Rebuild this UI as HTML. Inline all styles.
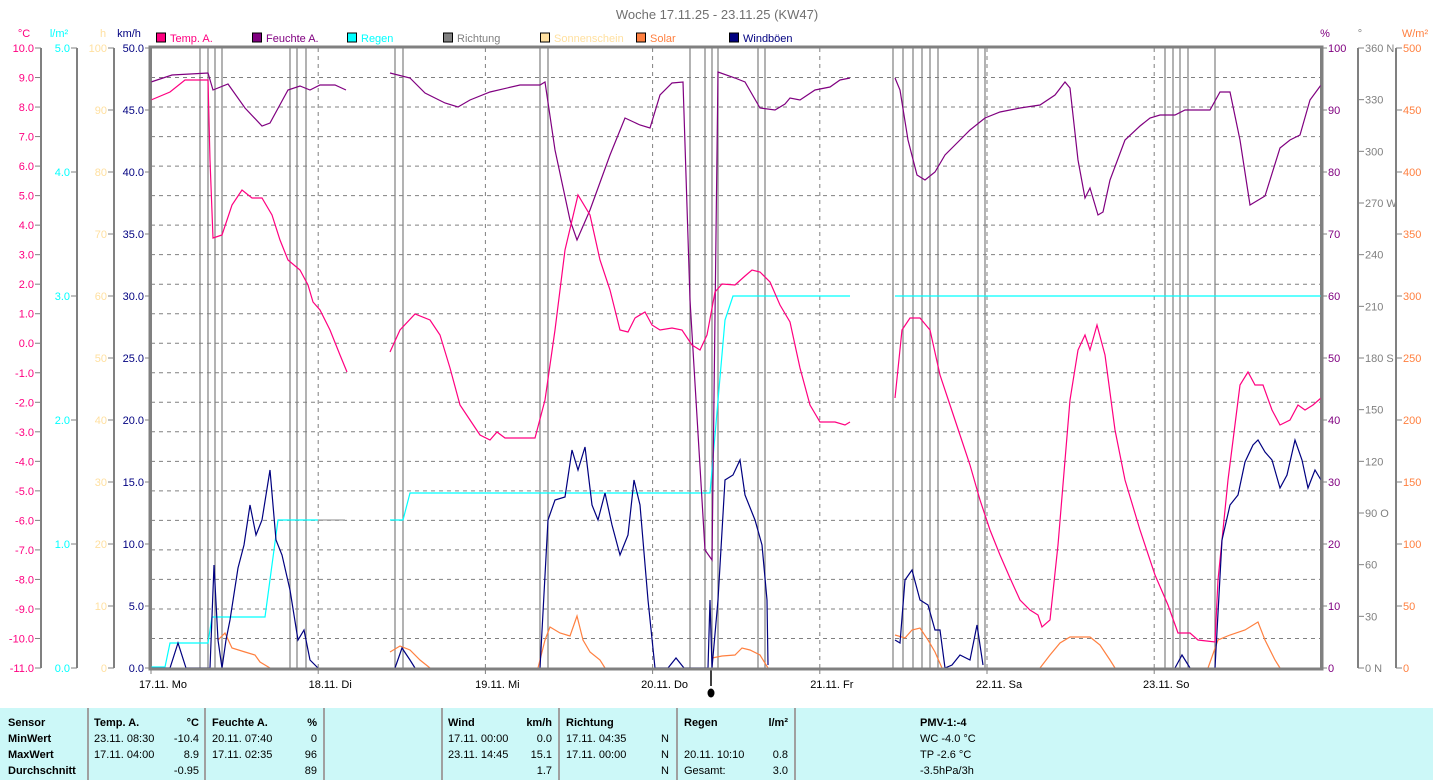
<!DOCTYPE html>
<html><head><meta charset="utf-8">
<style>
html,body{margin:0;padding:0;background:#fff;}
svg{display:block;font-family:"Liberation Sans",sans-serif;font-size:11px;}
</style></head>
<body>
<svg id="s" width="1433" height="780" xmlns="http://www.w3.org/2000/svg">
<rect width="1433" height="780" fill="#fff"/>
<text x="717" y="19" text-anchor="middle" font-size="13" fill="#707070">Woche 17.11.25 - 23.11.25 (KW47)</text>
<g id="grid"></g>
<g id="axes"></g>
<g id="series" fill="none" stroke-width="1.2"></g>
<rect x="150" y="47" width="1172" height="622" fill="none" stroke="#808080" stroke-width="3"/>
<g id="table"></g>
</svg>
<script>
const NS="http://www.w3.org/2000/svg";
function el(p,t,a,txt){const e=document.createElementNS(NS,t);for(const k in a)e.setAttribute(k,a[k]);if(txt!==undefined)e.textContent=txt;p.appendChild(e);return e;}
const G=document.getElementById('grid'),A=document.getElementById('axes'),S=document.getElementById('series'),T=document.getElementById('table');
const X0=151,X1=1321,Y0=48,Y1=668;
for(let k=1;k<21;k++){const y=Y0+k*(620/21);el(G,'line',{x1:X0,x2:X1,y1:y,y2:y,stroke:'#808080','stroke-dasharray':'4,4'});}
for(let d=1;d<7;d++){const x=X0+d*167.2;el(G,'line',{x1:x,x2:x,y1:Y0,y2:Y1,stroke:'#808080','stroke-dasharray':'4,4'});}
[200,208,215,222,290,297,306,395,403,540,548,690,705,712,718,758,765,893,903,913,922,930,938,978,985,1165,1173,1180,1188,1215].forEach(x=>el(G,'line',{x1:x,x2:x,y1:Y0,y2:Y1,stroke:'#808080','stroke-width':1.2}));
function axis(xl,col,vals,fmt,tx,unit,ux,right){
  el(A,'line',{x1:xl,x2:xl,y1:Y0,y2:Y1,stroke:'#808080','stroke-width':2});
  const n=vals.length-1;
  vals.forEach((v,i)=>{const y=Y0+i*620/n;
    if(!right){el(A,'line',{x1:xl-6,x2:xl,y1:y,y2:y,stroke:'#808080'});el(A,'text',{x:xl-7,y:y+4,'text-anchor':'end',fill:col},fmt(v));}
    else{el(A,'line',{x1:xl,x2:xl+6,y1:y,y2:y,stroke:'#808080'});el(A,'text',{x:xl+7,y:y+4,fill:col},fmt(v));}
  });
  el(A,'text',{x:ux,y:37,'text-anchor':'middle',fill:col},unit);
}
let a=[];for(let v=10;v>=-11;v--)a.push(v);
axis(41,'#ff0080',a,v=>v.toFixed(1),0,'°C',24);
a=[];for(let v=5;v>=0;v--)a.push(v);
axis(77,'#00ffff',a,v=>v.toFixed(1),0,'l/m²',59);
a=[];for(let v=100;v>=0;v-=10)a.push(v);
axis(114,'#ffe0a0',a,v=>v,0,'h',103);
a=[];for(let v=50;v>=0;v-=5)a.push(v);
axis(151,'#000080',a,v=>v.toFixed(1),0,'km/h',129);
a=[];for(let v=100;v>=0;v-=10)a.push(v);
axis(1321,'#800080',a,v=>v,0,'%',1325,true);
const dl={360:' N',270:' W',180:' S',90:' O',0:' N'};
a=[];for(let v=360;v>=0;v-=30)a.push(v);
axis(1358,'#808080',a,v=>v+(dl[v]||''),0,'°',1360,true);
a=[];for(let v=500;v>=0;v-=50)a.push(v);
axis(1396,'#ff8040',a,v=>v,0,'W/m²',1415,true);
['17.11. Mo','18.11. Di','19.11. Mi','20.11. Do','21.11. Fr','22.11. Sa','23.11. So'].forEach((t,i)=>{const x=X0+i*167.2;el(A,'line',{x1:x,x2:x,y1:Y1,y2:Y1+6,stroke:'#808080'});el(A,'text',{x:x+12,y:688,'text-anchor':'middle',fill:'#000'},t);});
el(A,'line',{x1:711,x2:711,y1:668,y2:686,stroke:'#000','stroke-width':1.5});
el(A,'ellipse',{cx:711,cy:693,rx:3.5,ry:4.5,fill:'#000'});
[['#ff0080','Temp. A.',161],['#800080','Feuchte A.',257],['#00ffff','Regen',352],['#808080','Richtung',448],['#ffe0a0','Sonnenschein',545],['#ff8040','Solar',641],['#000080','Windböen',734]].forEach(l=>{
  el(A,'rect',{x:l[2]-4.5,y:33,width:9,height:9,fill:l[0],stroke:'#000'});
  el(A,'text',{x:l[2]+9,y:42,fill:l[0]},l[1]);
});
function pl(col,pts,w){el(S,'polyline',{points:pts,stroke:col,'stroke-width':w||1.2});}
['218,640 225,633 232,648 245,652 255,655 260,662 270,668','390,652 400,646 410,650 420,660 430,668','538,668 545,640 550,627 560,633 570,636 577,616 583,640 590,652 600,660 605,668','712,658 722,656 735,655 742,648 750,650 760,655 768,668','895,635 905,638 912,630 920,628 928,640 935,652 942,668','1040,668 1050,655 1060,643 1070,637 1090,637 1100,645 1110,660 1115,668','1208,668 1218,640 1230,635 1245,630 1258,622 1265,640 1275,660 1280,668'].forEach(p=>pl('#ff8040',p));
pl('#00ffff','151,667 165,667 170,643 208,643 212,617 265,617 278,520 318,520');
pl('#a0a0a0','318,520 345,520');
pl('#00ffff','390,520 403,520 410,493 710,493 717,412 725,320 733,296 850,296');
pl('#00ffff','895,296 1321,296');
pl('#800080','151,82 172,75 208,73 213,90 228,84 245,108 262,126 270,123 288,90 300,86 310,90 320,85 335,85 346,90');
pl('#800080','390,73 410,78 425,93 445,103 458,107 470,100 490,92 520,85 540,85 545,82 555,150 570,220 577,240 590,210 610,155 625,118 640,125 650,128 660,95 672,83 683,82 690,300 705,550 712,560 718,72 735,78 745,82 760,108 775,110 785,104 790,98 800,100 815,90 830,87 840,80 850,78');
pl('#800080','895,78 900,90 908,140 917,175 925,180 935,172 945,155 960,140 970,130 980,122 985,118 1000,112 1020,108 1040,105 1055,95 1065,82 1070,88 1078,160 1085,198 1090,188 1098,215 1103,212 1110,180 1125,140 1140,126 1150,118 1160,115 1175,115 1185,110 1210,110 1220,92 1230,92 1240,140 1250,205 1265,196 1280,148 1290,140 1300,135 1310,100 1321,85');
pl('#ff0080','151,100 170,92 185,80 200,80 208,80 210,160 213,238 222,235 232,205 242,190 252,198 262,198 272,215 280,240 288,260 300,270 308,285 313,302 320,310 330,330 340,355 347,372');
pl('#ff0080','390,352 400,330 415,314 430,320 440,335 450,368 460,405 470,420 480,435 490,440 497,432 505,438 520,438 535,438 545,400 555,330 565,250 578,195 590,215 600,260 610,290 620,330 628,332 635,318 645,312 652,325 660,330 672,328 682,330 692,345 700,350 707,335 715,292 722,284 735,285 745,276 752,270 760,272 770,282 780,305 790,322 800,368 810,405 820,422 835,422 845,425 850,422');
pl('#ff0080','895,398 902,330 910,318 920,318 930,330 940,375 950,405 960,435 970,465 980,500 990,530 1000,555 1010,578 1020,600 1030,610 1038,615 1042,627 1050,620 1058,545 1070,400 1078,350 1085,335 1090,350 1097,325 1105,355 1115,430 1125,480 1140,530 1155,575 1168,605 1178,633 1190,633 1198,640 1215,642 1218,580 1228,480 1240,385 1248,372 1255,385 1263,385 1272,410 1280,425 1290,420 1298,405 1305,410 1313,405 1321,398');
pl('#000080','151,668 170,668 178,643 186,668 210,668 214,565 218,640 222,668 226,640 230,620 238,568 244,545 250,505 256,535 262,520 270,470 276,540 282,555 290,590 298,640 304,630 310,660 318,668');
pl('#000080','395,668 402,648 410,660 415,668');
pl('#000080','540,668 548,520 555,500 565,497 572,450 578,470 585,447 592,505 598,520 605,493 612,525 620,555 628,535 634,480 640,505 648,600 655,668 668,668 676,658 684,668 708,668 710,600 712,668 718,600 725,480 733,475 740,460 745,495 755,520 762,545 767,600 768,665');
pl('#000080','895,640 900,643 905,580 912,570 920,600 928,605 935,630 940,630 945,668 952,665 960,655 970,660 977,625 983,665');
pl('#000080','1175,668 1182,655 1190,668');
pl('#000080','1215,668 1222,540 1230,505 1238,495 1245,462 1253,445 1258,440 1265,452 1272,460 1280,488 1287,475 1295,440 1302,460 1308,488 1315,470 1321,480');
el(T,'rect',{x:0,y:708,width:1433,height:72,fill:'#ccf8f8'});
[88,205,324,442,559,677,795].forEach(x=>el(T,'line',{x1:x,x2:x,y1:708,y2:780,stroke:'#a0a0a0','stroke-width':2}));
function t(x,y,s,b,anc){el(T,'text',{x:x,y:y,fill:'#000','font-weight':b?'bold':'normal','text-anchor':anc||'start'},s);}
const R=[726,742,758,774];
t(8,R[0],'Sensor',1);t(8,R[1],'MinWert',1);t(8,R[2],'MaxWert',1);t(8,R[3],'Durchschnitt',1);
t(94,R[0],'Temp. A.',1);t(199,R[0],'°C',1,'end');
t(94,R[1],'23.11.  08:30');t(199,R[1],'-10.4',0,'end');
t(94,R[2],'17.11.  04:00');t(199,R[2],'8.9',0,'end');
t(199,R[3],'-0.95',0,'end');
t(212,R[0],'Feuchte A.',1);t(317,R[0],'%',1,'end');
t(212,R[1],'20.11.  07:40');t(317,R[1],'0',0,'end');
t(212,R[2],'17.11.  02:35');t(317,R[2],'96',0,'end');
t(317,R[3],'89',0,'end');
t(448,R[0],'Wind',1);t(552,R[0],'km/h',1,'end');
t(448,R[1],'17.11.  00:00');t(552,R[1],'0.0',0,'end');
t(448,R[2],'23.11.  14:45');t(552,R[2],'15.1',0,'end');
t(552,R[3],'1.7',0,'end');
t(566,R[0],'Richtung',1);
t(566,R[1],'17.11.  04:35');t(669,R[1],'N',0,'end');
t(566,R[2],'17.11.  00:00');t(669,R[2],'N',0,'end');
t(669,R[3],'N',0,'end');
t(684,R[0],'Regen',1);t(788,R[0],'l/m²',1,'end');
t(684,R[2],'20.11.  10:10');t(788,R[2],'0.8',0,'end');
t(684,R[3],'Gesamt:');t(788,R[3],'3.0',0,'end');
t(920,R[0],'PMV-1:-4',1);t(920,R[1],'WC -4.0 °C');t(920,R[2],'TP -2.6 °C');t(920,R[3],'-3.5hPa/3h');
</script>
</body></html>
